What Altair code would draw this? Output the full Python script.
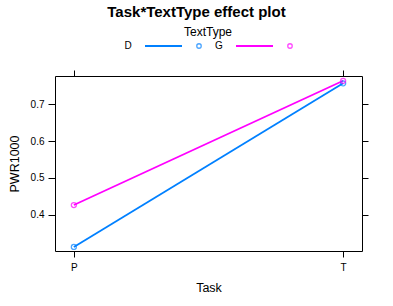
import altair as alt
import pandas as pd

tasks = ["P", "T"]
text_types = ["D", "G"]
pwr_D = [0.312, 0.757]
pwr_G = [0.426, 0.764]
colors = ["#0080ff", "#ff00ff"]
y_ticks = [0.4, 0.5, 0.6, 0.7]
title_text = ["Task*TextType effect plot"]
legend_title = ["TextType"]

rows = []
for tt, vals in zip(text_types, [pwr_D, pwr_G]):
    for t, v in zip(tasks, vals):
        rows.append({"Task": t, "TextType": tt, "PWR1000": v})
df = pd.DataFrame(rows)
leg = pd.DataFrame({"TextType": text_types})

FONT = "Liberation Sans"
xscale = alt.Scale(type="point", domain=tasks, padding=0.07)
yscale = alt.Scale(domain=[0.301, 0.777], nice=False, zero=False)
cscale = alt.Scale(domain=text_types, range=colors)
color = alt.Color("TextType:N", scale=cscale, legend=None)

ax_common = dict(domain=False, grid=False, tickColor="black", tickWidth=1,
                 labelFont=FONT, labelFontSize=10, labelColor="black",
                 titleFont=FONT, titleFontSize=12.5, titleFontWeight="normal",
                 titleColor="black")

lines = alt.Chart(df).mark_line(strokeWidth=1.8).encode(
    x=alt.X("Task:N", scale=xscale,
            axis=alt.Axis(orient="bottom", title="Task", labelAngle=0, tickSize=6,
                          labelPadding=5, titlePadding=9, **ax_common)),
    y=alt.Y("PWR1000:Q", scale=yscale,
            axis=alt.Axis(orient="left", title="PWR1000", values=y_ticks, format=".1f",
                          tickSize=7, labelPadding=4, titlePadding=9, **ax_common)),
    color=color,
    detail="TextType:N",
)

points = alt.Chart(df).mark_point(shape="circle", filled=False, size=25, strokeWidth=1.3).encode(
    x=alt.X("Task:N", scale=xscale,
            axis=alt.Axis(orient="top", title=None, labels=False, tickSize=6, **ax_common)),
    y=alt.Y("PWR1000:Q", scale=yscale,
            axis=alt.Axis(orient="right", title=None, labels=False, values=y_ticks,
                          tickSize=6, **ax_common)),
    color=color,
)

main = alt.layer(lines, points).resolve_axis(x="independent", y="independent")

leg_x = alt.X("TextType:N",
              scale=alt.Scale(type="point", padding=0, domain=text_types, range=[73, 164]),
              axis=None)

leg_text = alt.Chart(leg).mark_text(font=FONT, fontSize=10, color="black", baseline="middle").encode(
    x=leg_x, y=alt.value(-30), text="TextType:N")
leg_rule = alt.Chart(leg).mark_rule(strokeWidth=1.8, xOffset=17, x2Offset=54).encode(
    x=leg_x, x2=alt.X2("TextType:N"), y=alt.value(-30), color=color)
leg_pt = alt.Chart(leg).mark_point(shape="circle", filled=False, size=20, strokeWidth=1.3, xOffset=71).encode(
    x=leg_x, y=alt.value(-30), color=color)

leg_title = alt.Chart(pd.DataFrame({"t": legend_title})).mark_text(
    font=FONT, fontSize=12, color="black", baseline="middle").encode(
    x=alt.value(153), y=alt.value(-44.5), text="t:N")

main_title = alt.Chart(pd.DataFrame({"t": title_text})).mark_text(
    font=FONT, fontSize=15, fontWeight="bold", color="black", baseline="alphabetic").encode(
    x=alt.value(141.5), y=alt.value(-59.3), text="t:N")

chart = alt.layer(main, leg_rule, leg_pt, leg_text, leg_title, main_title).resolve_scale(
    x="independent"
).properties(
    width=307, height=175,
    padding={"left": 55, "top": 76, "right": 31, "bottom": 55},
    autosize=alt.AutoSizeParams(type="none"),
).configure_view(stroke="black", strokeWidth=1)

chart.save("out.html", embed_options={"renderer": "svg", "actions": False})
